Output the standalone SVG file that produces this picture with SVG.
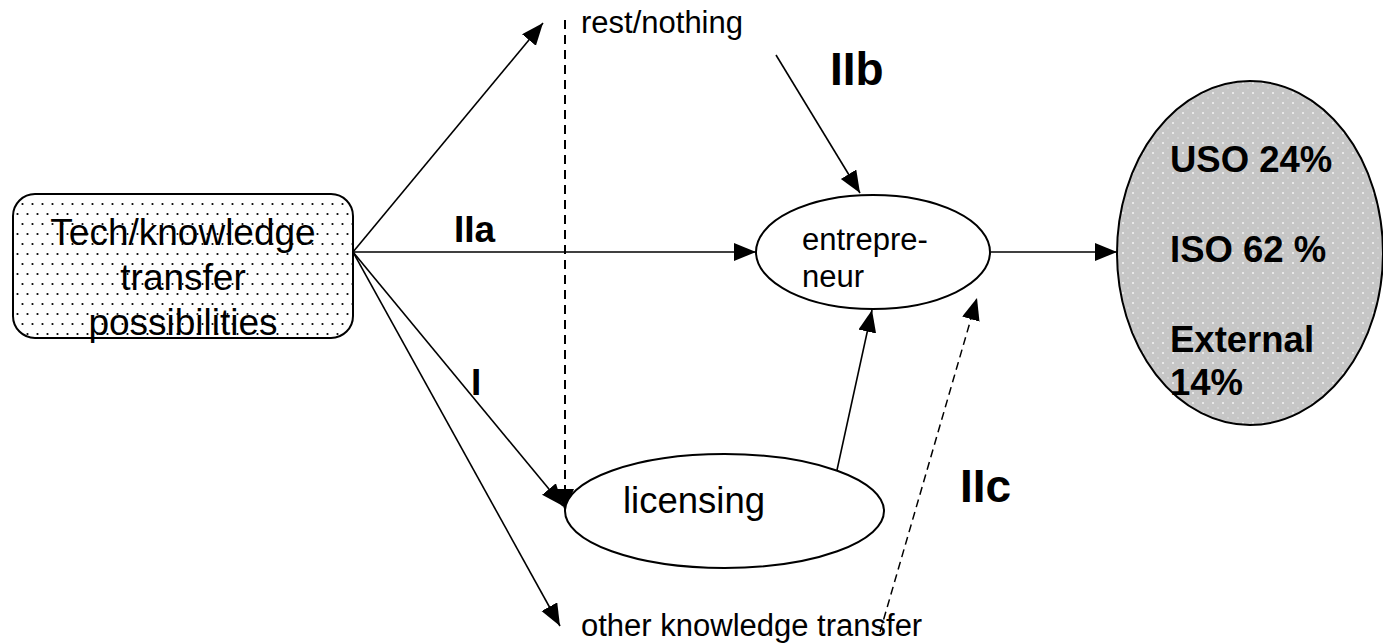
<svg xmlns="http://www.w3.org/2000/svg" width="1383" height="643" viewBox="0 0 1383 643">
  <style>
    .t { font-family: "Liberation Sans", Arial, sans-serif; fill: #000; }
    .b { font-family: "Liberation Sans", Arial, sans-serif; font-weight: bold; fill: #000; }
    .ln { stroke: #000; stroke-width: 1.6; fill: none; }
    .dash { stroke: #000; stroke-width: 2; fill: none; stroke-dasharray: 9 6; }
    .dash2 { stroke: #000; stroke-width: 1.5; fill: none; stroke-dasharray: 8 5; }
    .shape { stroke: #000; stroke-width: 2; }
  </style>
  <defs>
    <marker id="arr" markerUnits="userSpaceOnUse" markerWidth="24" markerHeight="20" refX="22" refY="9" orient="auto">
      <path d="M0,0 L22,9 L0,18 Z" fill="#000"/>
    </marker>
    <pattern id="dots" width="10" height="20" patternUnits="userSpaceOnUse">
      <rect width="10" height="20" fill="#fff"/>
      <circle cx="2.5" cy="4" r="1.1" fill="#000"/>
      <circle cx="7.5" cy="14" r="1.1" fill="#000"/>
    </pattern>
    <pattern id="gray" width="10" height="10" patternUnits="userSpaceOnUse">
      <rect width="10" height="10" fill="#c6c6c6"/>
      <circle cx="3" cy="3" r="1" fill="#f4f4f4"/>
      <circle cx="8" cy="8" r="0.7" fill="#e8e8e8"/>
    </pattern>
  </defs>

  <g id="connectors">
    <line class="ln" x1="353" y1="252" x2="543" y2="23" marker-end="url(#arr)"/>
    <line class="ln" x1="353" y1="252" x2="756" y2="252" marker-end="url(#arr)"/>
    <line class="ln" x1="353" y1="252" x2="563" y2="506" marker-end="url(#arr)"/>
    <line class="ln" x1="353" y1="252" x2="560" y2="626" marker-end="url(#arr)"/>
    <line class="dash" x1="565" y1="20" x2="565" y2="511" marker-end="url(#arr)"/>
    <line class="ln" x1="776" y1="55" x2="860" y2="193" marker-end="url(#arr)"/>
    <line class="ln" x1="837" y1="470" x2="872" y2="310" marker-end="url(#arr)"/>
    <line class="dash2" x1="880" y1="632" x2="977" y2="298" marker-end="url(#arr)"/>
    <line class="ln" x1="991" y1="252" x2="1117" y2="252" marker-end="url(#arr)"/>
  </g>

  <g id="tech">
    <rect class="shape" x="13" y="194" width="340" height="144" rx="22" fill="url(#dots)"/>
    <text class="t" font-size="37" text-anchor="middle" x="183" y="245">Tech/knowledge</text>
    <text class="t" font-size="37" text-anchor="middle" x="183" y="290">transfer</text>
    <text class="t" font-size="37" text-anchor="middle" x="183" y="335">possibilities</text>
  </g>

  <g id="rest">
    <text class="t" font-size="31" x="581" y="33">rest/nothing</text>
  </g>

  <g id="entrepreneur">
    <ellipse class="shape" cx="873" cy="252" rx="117" ry="57" fill="#fff"/>
    <text class="t" font-size="31" x="802" y="250">entrepre-</text>
    <text class="t" font-size="31" x="802" y="287">neur</text>
  </g>

  <g id="licensing">
    <ellipse class="shape" cx="724.5" cy="511" rx="159.5" ry="57" fill="#fff"/>
    <text class="t" font-size="36.5" x="623" y="513">licensing</text>
  </g>

  <g id="other">
    <text class="t" font-size="31" x="581" y="636">other knowledge transfer</text>
  </g>

  <g id="result">
    <ellipse class="shape" cx="1250" cy="253" rx="133" ry="172" fill="url(#gray)"/>
    <text class="b" font-size="36.5" x="1170" y="172">USO 24%</text>
    <text class="b" font-size="36.5" x="1170" y="262">ISO 62 %</text>
    <text class="b" font-size="36.5" x="1170" y="352">External</text>
    <text class="b" font-size="36.5" x="1170" y="395">14%</text>
  </g>

  <g id="labels">
    <text class="b" font-size="46" x="830" y="85">IIb</text>
    <text class="b" font-size="37" x="454" y="242">IIa</text>
    <text class="b" font-size="37" x="471" y="395">I</text>
    <text class="b" font-size="46" x="960" y="502">IIc</text>
  </g>
</svg>
